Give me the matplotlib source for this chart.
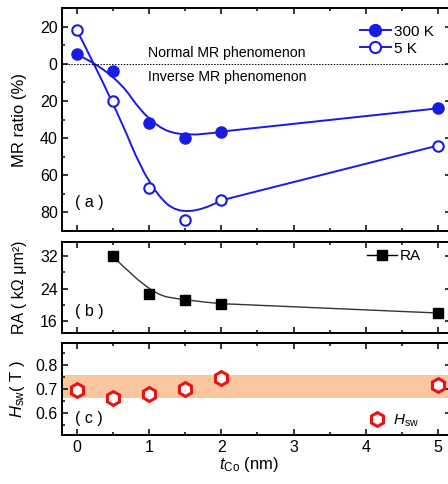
import numpy as np
import matplotlib
matplotlib.use("Agg")
import matplotlib.pyplot as plt
from matplotlib.path import Path
from matplotlib.patches import PathPatch
from matplotlib.ticker import MultipleLocator, FuncFormatter
from matplotlib.lines import Line2D

plt.rcParams['font.family'] = ['Liberation Sans', 'DejaVu Sans']
plt.rcParams['mathtext.fontset'] = 'custom'
plt.rcParams['mathtext.rm'] = 'Liberation Sans'
plt.rcParams['mathtext.it'] = 'Liberation Sans:italic'

# Co thickness (nm)
t_co = [0, 0.5, 1, 1.5, 2, 5]
# MR ratio (%), negative = inverse MR
mr_300k = [5, -4, -32, -40, -36.5, -24]
mr_5k = [18, -20, -67, -84, -73.5, -44]
# RA (kOhm um^2)
t_ra = [0.5, 1, 1.5, 2, 5]
ra = [32, 22.8, 21.1, 20.3, 18.0]
# switching field (T)
hsw = [0.697, 0.663, 0.679, 0.70, 0.745, 0.718]
hsw_band = (0.665, 0.76)

blue = '#1a1ae6'
red = '#e81414'


def smooth_path(xs, ys, n_smooth):
    # quadratic B-spline through the first n_smooth points, straight segments after
    verts = [(xs[0], ys[0])]
    codes = [Path.MOVETO]
    for i in range(1, n_smooth - 2):
        verts += [(xs[i], ys[i]), ((xs[i] + xs[i + 1]) / 2, (ys[i] + ys[i + 1]) / 2)]
        codes += [Path.CURVE3, Path.CURVE3]
    verts += [(xs[n_smooth - 2], ys[n_smooth - 2]), (xs[n_smooth - 1], ys[n_smooth - 1])]
    codes += [Path.CURVE3, Path.CURVE3]
    for i in range(n_smooth, len(xs)):
        verts.append((xs[i], ys[i]))
        codes.append(Path.LINETO)
    return Path(verts, codes)


def style(ax):
    ax.tick_params(which='both', direction='in', top=True, right=True, labelsize=11.5,
                   width=1.1)
    ax.tick_params(which='major', length=4)
    ax.tick_params(which='minor', length=2.5)
    for s in ax.spines.values():
        s.set_linewidth(1.4)
    ax.xaxis.set_major_locator(MultipleLocator(1))
    ax.xaxis.set_minor_locator(MultipleLocator(0.5))
    ax.set_xlim(-0.2, 5.18)


fig = plt.figure(figsize=(4.48, 4.84), dpi=100)
ax1 = fig.add_axes([0.1395, 0.5227, 0.867, 0.4607])
ax2 = fig.add_axes([0.1395, 0.3114, 0.867, 0.1886])
ax3 = fig.add_axes([0.1395, 0.1012, 0.867, 0.1900])
for ax in (ax1, ax2, ax3):
    style(ax)

# (a) MR ratio
ax1.axhline(0, color='k', ls=(0, (1.5, 1.5)), lw=0.7)
ax1.add_patch(PathPatch(smooth_path(t_co, mr_300k, 5), fc='none', ec=blue, lw=1.4))
ax1.add_patch(PathPatch(smooth_path(t_co, mr_5k, 5), fc='none', ec=blue, lw=1.4))
ax1.plot(t_co, mr_300k, 'o', color=blue, ms=8, zorder=5)
ax1.plot(t_co, mr_5k, 'o', mfc='white', mec=blue, mew=1.5, ms=7.5, zorder=5)
ax1.set_ylim(-90, 30)
ax1.yaxis.set_major_locator(MultipleLocator(20))
ax1.yaxis.set_minor_locator(MultipleLocator(10))
ax1.yaxis.set_major_formatter(FuncFormatter(lambda v, p: '%d' % abs(round(v))))
ax1.tick_params(labelbottom=False)
ax1.set_ylabel('MR ratio (%)', fontsize=12)
ax1.text(0.98, 5.9, 'Normal MR phenomenon', fontsize=10.2, va='center')
ax1.text(0.98, -7.0, 'Inverse MR phenomenon', fontsize=10.2, va='center')
ax1.text(0.032, 0.126, '( a )', transform=ax1.transAxes, fontsize=11.5, va='center')
h300 = Line2D([], [], color=blue, lw=1.4, marker='o', ms=8.5)
h5 = Line2D([], [], color=blue, lw=1.4, marker='o', mfc='white', mec=blue, mew=1.5, ms=8)
ax1.legend([h300, h5], ['300 K', '5 K'], loc='upper left', bbox_to_anchor=(0.766, 0.925),
           frameon=False, fontsize=11, handlelength=2.0, handletextpad=0.2,
           borderpad=0, borderaxespad=0, labelspacing=0.2)

# (b) RA
ax2.add_patch(PathPatch(smooth_path(t_ra, ra, 4), fc='none', ec='#333333', lw=1.0))
ax2.plot(t_ra, ra, 's', color='k', ms=7, zorder=5)
ax2.set_ylim(13, 35.5)
ax2.yaxis.set_major_locator(MultipleLocator(8))
ax2.yaxis.set_minor_locator(MultipleLocator(4))
ax2.tick_params(labelbottom=False)
ax2.set_ylabel('RA ( kΩ μm²)', fontsize=11.5)
ax2.text(0.032, 0.237, '( b )', transform=ax2.transAxes, fontsize=11.5, va='center')
hra = Line2D([], [], color='k', lw=1.0, marker='s', ms=7)
ax2.legend([hra], ['RA'], loc='upper left', bbox_to_anchor=(0.783, 0.92), frameon=False,
           fontsize=11, handlelength=2.0, handletextpad=0.2, borderpad=0, borderaxespad=0)

# (c) switching field
ax3.axhspan(hsw_band[0], hsw_band[1], color='#f9c6a0', lw=0, zorder=0)
ax3.plot(t_co, hsw, 'h', mfc='white', mec=red, mew=2.2, ms=10, zorder=5)
ax3.set_ylim(0.51, 0.89)
ax3.yaxis.set_major_locator(MultipleLocator(0.1))
ax3.yaxis.set_minor_locator(MultipleLocator(0.05))
ax3.yaxis.set_major_formatter(FuncFormatter(lambda v, p: '%.1f' % v))
ax3.set_ylabel('$\\mathit{H}_{\\rm sw}$( T )', fontsize=12)
ax3.text(0.032, 0.18, '( c )', transform=ax3.transAxes, fontsize=11.5, va='center')
hh = Line2D([], [], ls='none', marker='h', mfc='white', mec=red, mew=2.2, ms=10)
ax3.legend([hh], ['$\\mathit{H}_{\\rm sw}$'], loc='center left', bbox_to_anchor=(0.785, 0.155),
           frameon=False, fontsize=11, handlelength=1.2, handletextpad=0.5,
           borderpad=0, borderaxespad=0)
ax3.set_xlabel('$\\mathit{t}_{\\rm Co}$ (nm)', fontsize=12, labelpad=1)
ax3.xaxis.set_label_coords(0.48, -0.22, transform=ax3.transAxes)

for ax in (ax1, ax2, ax3):
    ax.yaxis.set_label_coords(-0.091, 0.5)

fig.savefig('out.png', dpi=100)
